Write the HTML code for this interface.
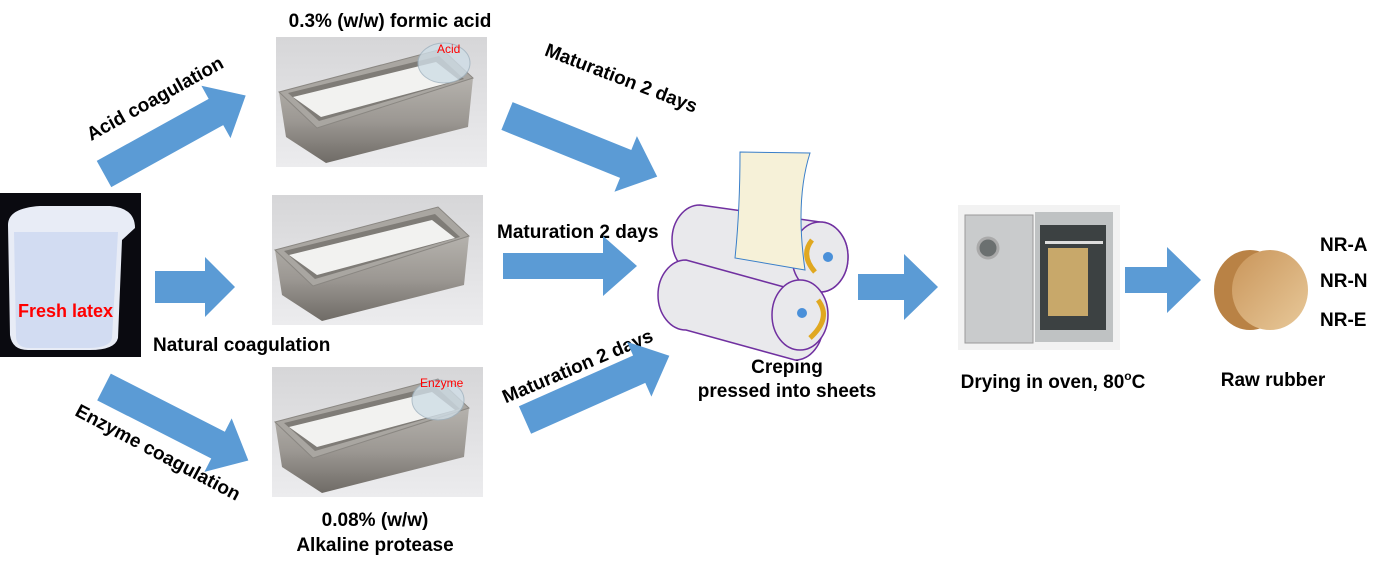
<!DOCTYPE html>
<html><head><meta charset="utf-8"><style>
html,body{margin:0;padding:0;background:#fff;}
svg{display:block;font-family:"Liberation Sans",Arial,sans-serif;font-weight:bold;}
</style></head><body>
<svg width="1386" height="569" viewBox="0 0 1386 569" xmlns="http://www.w3.org/2000/svg">
<defs>
<linearGradient id="bg" x1="0" y1="0" x2="0" y2="1"><stop offset="0" stop-color="#d6d6d8"/><stop offset="1" stop-color="#ececee"/></linearGradient>
<linearGradient id="metal" x1="0" y1="0" x2="0" y2="1"><stop offset="0" stop-color="#b5b2ad"/><stop offset="0.5" stop-color="#9c9893"/><stop offset="1" stop-color="#6f6b66"/></linearGradient>
<linearGradient id="rub" x1="0" y1="0" x2="1" y2="1"><stop offset="0" stop-color="#c9955a"/><stop offset="1" stop-color="#e8c99a"/></linearGradient>
<g id="tray">
 <rect x="0" y="0" width="211" height="130" fill="url(#bg)"/>
 <path d="M3,55 L41,91 L197,41 L192,90 L50,126 L10,100 Z" fill="url(#metal)"/>
 <path d="M3,55 L166,12 L197,41 L41,91 Z" fill="#a9a6a1" stroke="#8a8782" stroke-width="1"/>
 <path d="M12,56 L163,19 L188,42 L43,84 Z" fill="#7f7c77"/>
 <path d="M17,60 L160,25 L183,43 L45,80 Z" fill="#f2f2f0"/>
</g>
</defs>

<!-- beaker -->
<rect x="0" y="193" width="141" height="164" fill="#0a0a10"/>
<path d="M8,225 Q8,208 40,206 L110,206 Q135,208 135,228 L122,240 L118,338 Q115,350 90,350 L28,350 Q12,350 10,335 Z" fill="#e8ecf6"/>
<path d="M14,232 L118,232 L112,338 Q110,348 88,348 L30,348 Q16,348 16,336 Z" fill="#d2dcf2"/>
<text x="18" y="317" font-size="18" fill="#ff0000">Fresh latex</text>

<!-- trays -->
<use href="#tray" x="276" y="37"/>
<use href="#tray" x="272" y="195"/>
<use href="#tray" x="272" y="367"/>
<ellipse cx="444" cy="63" rx="26" ry="20" fill="#cfdde6" opacity="0.8" stroke="#9fb2bf"/>
<ellipse cx="438" cy="400" rx="26" ry="20" fill="#cfdde6" opacity="0.8" stroke="#9fb2bf"/>
<text x="437" y="53" font-size="12" font-weight="normal" fill="#ff0000">Acid</text>
<text x="420" y="387" font-size="12" font-weight="normal" fill="#ff0000">Enzyme</text>

<g fill="#000" font-size="19">
<text x="390" y="27" text-anchor="middle">0.3% (w/w) formic acid</text>
<text x="153" y="351">Natural coagulation</text>
<text x="375" y="526" text-anchor="middle">0.08% (w/w)</text>
<text x="375" y="551" text-anchor="middle">Alkaline protease</text>
<text x="497" y="238">Maturation 2 days</text>
<text x="787" y="373" text-anchor="middle">Creping</text>
<text x="787" y="397" text-anchor="middle">pressed into sheets</text>
<text x="1053" y="388" text-anchor="middle">Drying in oven, 80<tspan font-size="12" dy="-8">o</tspan><tspan dy="8">C</tspan></text>
<text x="1273" y="386" text-anchor="middle">Raw rubber</text>
<text x="1320" y="251">NR-A</text>
<text x="1320" y="287">NR-N</text>
<text x="1320" y="326">NR-E</text>
<text transform="translate(158,104) rotate(-29)" text-anchor="middle">Acid coagulation</text>
<text transform="translate(155,458) rotate(28)" text-anchor="middle">Enzyme coagulation</text>
<text transform="translate(619,84) rotate(21)" text-anchor="middle">Maturation 2 days</text>
<text transform="translate(580,372) rotate(-23)" text-anchor="middle">Maturation 2 days</text>
</g>

<!-- arrows -->
<g fill="#5b9bd5">
<path transform="translate(104,174) rotate(-29)" d="M0,-15 L128,-15 L128,-30 L162,0 L128,30 L128,15 L0,15 Z"/>
<path transform="translate(104,387) rotate(27)" d="M0,-15 L128,-15 L128,-30 L162,0 L128,30 L128,15 L0,15 Z"/>
<path transform="translate(155,287)" d="M0,-16 L50,-16 L50,-30 L80,0 L50,30 L50,16 L0,16 Z"/>
<path transform="translate(507,116) rotate(22)" d="M0,-15 L128,-15 L128,-30 L162,0 L128,30 L128,15 L0,15 Z"/>
<path transform="translate(503,266)" d="M0,-13 L100,-13 L100,-30 L134,0 L100,30 L100,13 L0,13 Z"/>
<path transform="translate(525,420) rotate(-24)" d="M0,-15 L125,-15 L125,-30 L158,0 L125,30 L125,15 L0,15 Z"/>
<path transform="translate(858,287)" d="M0,-13 L46,-13 L46,-33 L80,0 L46,33 L46,13 L0,13 Z"/>
<path transform="translate(1125,280)" d="M0,-13 L42,-13 L42,-33 L76,0 L42,33 L42,13 L0,13 Z"/>
</g>

<!-- rollers -->
<g stroke="#7030a0" stroke-width="1.5">
 <path d="M700,205 L820,222 A28,35 0 0 1 820,292 L700,275 A28,35 0 0 1 700,205 Z" fill="#e9e9ec"/>
 <ellipse cx="820" cy="257" rx="28" ry="35" fill="#e9e9ec"/>
 <path d="M686,260 L795,290 A28,35 0 0 1 795,360 L686,330 A28,35 0 0 1 686,260 Z" fill="#e9e9ec"/>
 <ellipse cx="800" cy="315" rx="28" ry="35" fill="#e9e9ec"/>
</g>
<path d="M740,152 L810,153 Q795,200 805,270 L735,258 Q740,210 740,152 Z" fill="#f6f1d8" stroke="#3a7fc9" stroke-width="1"/>
<circle cx="828" cy="257" r="5" fill="#4a90d9"/>
<circle cx="802" cy="313" r="5" fill="#4a90d9"/>
<path d="M812,240 Q800,255 815,272" stroke="#e0a820" stroke-width="5" fill="none"/>
<path d="M818,300 Q832,318 810,338" stroke="#e0a820" stroke-width="5" fill="none"/>

<!-- oven -->
<rect x="958" y="205" width="162" height="145" fill="#f2f2f2"/>
<rect x="1035" y="212" width="78" height="130" fill="#bfc2c3"/>
<rect x="1040" y="225" width="66" height="105" fill="#3c4142"/>
<rect x="965" y="215" width="68" height="128" fill="#c9cbcc" stroke="#9a9a9a"/>
<circle cx="988" cy="248" r="10" fill="#6b7070" stroke="#aaa" stroke-width="3"/>
<rect x="1048" y="248" width="40" height="68" fill="#c8a86a"/>
<rect x="1045" y="241" width="58" height="3" fill="#ddd"/>

<!-- rubber -->
<ellipse cx="1250" cy="290" rx="36" ry="40" fill="#b98245"/>
<ellipse cx="1270" cy="290" rx="38" ry="40" fill="url(#rub)"/>
</svg>
</body></html>
